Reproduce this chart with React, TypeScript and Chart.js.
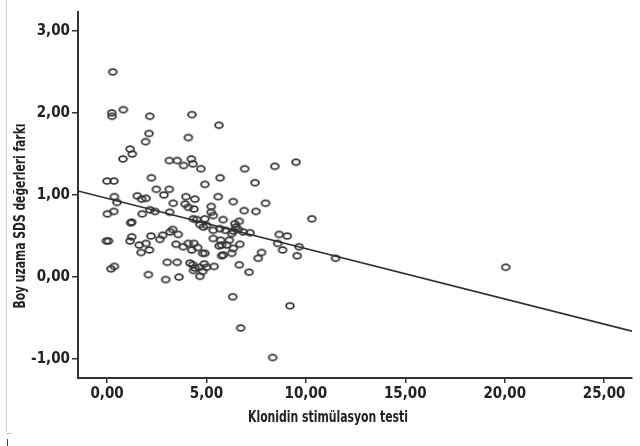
import React, { useEffect, useRef } from "react";
import { Chart, registerables } from "chart.js";

Chart.register(...registerables);

const xValues = [
  0.29, 0.24, 0.25, 0.82, 2.15, 2.11, 1.94, 1.16, 1.27, 0.8,
  4.27, 4.09, 5.63, 3.13, 3.53, 3.85, 4.24, 4.32, 4.72, 2.23,
  5.69, 4.92, 6.92, 7.44, 8.44, 9.5, 0.0, 0.35, 0.37, 0.5,
  0.02, 0.34, 1.24, 1.19, 1.52, 1.96, 1.74, 1.77, 2.16, 2.41,
  2.48, 2.86, 3.13, 3.33, 3.15, 3.97, 3.93, 4.42, 4.37, 5.59,
  5.24, 5.24, 6.35, 6.9, 7.49, 7.97, 10.3, 4.09, 4.34, 4.92,
  5.84, 6.65, 0.07, -0.03, 1.24, 1.16, 1.62, 1.96, 1.71, 2.13,
  2.21, 2.66, 2.8, 3.17, 3.3, 3.58, 3.47, 3.83, 4.09, 4.26,
  4.37, 4.56, 3.03, 3.53, 4.17, 4.35, 4.64, 4.89, 0.2, 0.37,
  2.08, 2.95, 3.62, 4.92, 4.81, 5.34, 5.71, 5.76, 6.15, 6.27,
  6.35, 6.27, 5.84, 6.68, 6.48, 6.85, 7.19, 5.68, 5.34, 5.01,
  6.65, 7.14, 7.77, 7.6, 8.66, 9.06, 8.58, 8.83, 9.66, 9.56,
  5.38, 5.01, 6.32, 9.2, 6.72, 8.33, 11.49, 20.05, 4.51, 4.67,
  4.84, 5.34, 5.96, 6.43, 6.6, 5.64, 6.02, 5.76, 4.42, 4.67,
  4.81, 4.31, 6.35,
];
const yValues = [
  2.5, 2.0, 1.96, 2.04, 1.96, 1.75, 1.65, 1.56, 1.5, 1.44,
  1.98, 1.7, 1.85, 1.42, 1.42, 1.36, 1.44, 1.38, 1.32, 1.21,
  1.21, 1.13, 1.32, 1.15, 1.35, 1.4, 1.17, 1.17, 0.98, 0.91,
  0.77, 0.8, 0.67, 0.66, 0.99, 0.96, 0.95, 0.77, 0.82, 0.8,
  1.07, 1.0, 1.07, 0.9, 0.79, 0.98, 0.89, 0.95, 0.83, 0.98,
  0.86, 0.79, 0.92, 0.81, 0.8, 0.9, 0.71, 0.85, 0.71, 0.71,
  0.7, 0.68, 0.44, 0.44, 0.49, 0.44, 0.39, 0.41, 0.3, 0.33,
  0.5, 0.46, 0.51, 0.55, 0.58, 0.52, 0.4, 0.37, 0.41, 0.33,
  0.41, 0.36, 0.18, 0.18, 0.17, 0.08, 0.12, 0.16, 0.1, 0.13,
  0.03, -0.03, 0.0, 0.29, 0.29, 0.47, 0.45, 0.39, 0.45, 0.53,
  0.35, 0.29, 0.27, 0.4, 0.61, 0.55, 0.54, 0.59, 0.57, 0.63,
  0.15, 0.06, 0.3, 0.23, 0.52, 0.5, 0.41, 0.33, 0.37, 0.26,
  0.13, 0.12, -0.24, -0.35, -0.62, -0.98, 0.23, 0.12, 0.7, 0.64,
  0.61, 0.75, 0.57, 0.65, 0.58, 0.38, 0.39, 0.26, 0.11, 0.01,
  0.07, 0.15, 0.56,
];

const fitLineX = [-1.46, 26.4];
const fitLineY = [1.049, -0.659];

const xTicks = [0, 5, 10, 15, 20, 25];
const yTicks = [-1, 0, 1, 2, 3];

const xTitle = "Klonidin stimülasyon testi";
const yTitle = "Boy uzama SDS değerleri farkı";

const FONT_FAMILY = '"DejaVu Sans Condensed", "Liberation Sans Narrow", "Liberation Sans", sans-serif';
const INK = "#222222";

function fmt(v: number): string {
  return v.toFixed(2).replace(".", ",");
}

function makeRing(): HTMLCanvasElement {
  const c = document.createElement("canvas");
  c.width = 12;
  c.height = 10;
  const ctx = c.getContext("2d")!;
  ctx.strokeStyle = "#353535";
  ctx.lineWidth = 1.8;
  ctx.beginPath();
  ctx.ellipse(6, 5, 3.9, 2.9, 0, 0, Math.PI * 2);
  ctx.stroke();
  return c;
}

function fitText(ctx: CanvasRenderingContext2D, text: string, x: number, y: number, width: number) {
  const w = ctx.measureText(text).width;
  const sx = width / w;
  ctx.save();
  ctx.translate(x, y);
  ctx.scale(sx, 1);
  ctx.fillText(text, 0, 0);
  ctx.restore();
}

const decorPlugin = {
  id: "decor",
  afterDraw(chart: any) {
    const ctx: CanvasRenderingContext2D = chart.ctx;
    ctx.save();
    // faint frame remnants on the left edge
    ctx.strokeStyle = "#cfcfcf";
    ctx.lineWidth = 1;
    ctx.beginPath();
    ctx.moveTo(6.5, 0);
    ctx.lineTo(6.5, 432);
    ctx.moveTo(6, 433.5);
    ctx.lineTo(12, 433.5);
    ctx.stroke();
    ctx.strokeStyle = "#444";
    ctx.beginPath();
    ctx.moveTo(7.5, 439);
    ctx.lineTo(7.5, 446);
    ctx.stroke();

    ctx.fillStyle = INK;
    ctx.font = `bold 16px ${FONT_FAMILY}`;
    ctx.textAlign = "center";
    ctx.textBaseline = "middle";
    fitText(ctx, xTitle, 328, 418, 160);
    ctx.translate(21, 216);
    ctx.rotate(-Math.PI / 2);
    fitText(ctx, yTitle, 0, 0, 185);
    ctx.restore();
  },
};

export default function App() {
  const ref = useRef<HTMLCanvasElement | null>(null);

  useEffect(() => {
    if (!ref.current) return;
    const ring = makeRing();
    const points = xValues.map((x, i) => ({ x, y: yValues[i] }));
    const fit = fitLineX.map((x, i) => ({ x, y: fitLineY[i] }));

    const chart = new Chart(ref.current, {
      type: "scatter",
      data: {
        datasets: [
          {
            type: "line",
            data: fit,
            borderColor: "#2e2e2e",
            borderWidth: 1.6,
            pointRadius: 0,
            fill: false,
          } as any,
          {
            data: points,
            pointStyle: ring as any,
            pointRadius: 4,
            borderColor: "#3a3a3a",
            backgroundColor: "transparent",
          },
        ],
      },
      options: {
        responsive: false,
        animation: false,
        events: [],
        layout: { padding: { left: 0, right: 8, top: 12, bottom: 0 } },
        plugins: {
          legend: { display: false },
          tooltip: { enabled: false },
          title: { display: false },
        },
        scales: {
          x: {
            type: "linear",
            min: -1.46,
            max: 26.4,
            afterBuildTicks: (s: any) => {
              s.ticks = xTicks.map((v) => ({ value: v }));
            },
            afterFit: (s: any) => {
              s.height = 68;
            },
            ticks: {
              callback: (v: any) => fmt(Number(v)),
              color: INK,
              font: { family: FONT_FAMILY, size: 15, weight: "bold" },
              padding: 2,
              maxRotation: 0,
              autoSkip: false,
            },
            grid: {
              display: true,
              drawOnChartArea: false,
              drawTicks: true,
              tickLength: 5,
              color: "#333",
              lineWidth: 1.5,
            },
            border: { display: true, color: "#333", width: 2 },
          },
          y: {
            type: "linear",
            min: -1.23,
            max: 3.23,
            afterBuildTicks: (s: any) => {
              s.ticks = yTicks.map((v) => ({ value: v }));
            },
            afterFit: (s: any) => {
              s.width = 78;
            },
            ticks: {
              callback: (v: any) => fmt(Number(v)),
              color: INK,
              font: { family: FONT_FAMILY, size: 15, weight: "bold" },
              padding: 2,
              autoSkip: false,
            },
            grid: {
              display: true,
              drawOnChartArea: false,
              drawTicks: true,
              tickLength: 6,
              color: "#333",
              lineWidth: 1.5,
            },
            border: { display: true, color: "#333", width: 2 },
          },
        },
      },
      plugins: [decorPlugin],
    });
    return () => chart.destroy();
  }, []);

  return (
    <canvas
      ref={ref}
      width={640}
      height={446}
      style={{ position: "absolute", left: 0, top: 0, width: 640, height: 446, background: "#fff" }}
    />
  );
}
